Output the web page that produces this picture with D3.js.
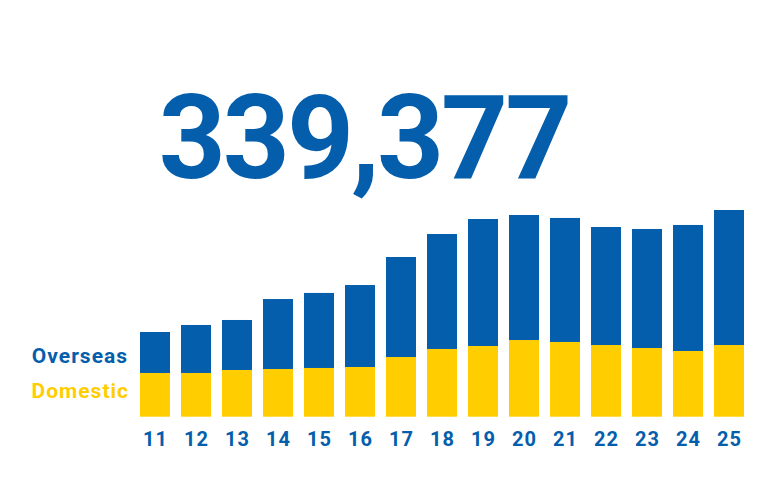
<!DOCTYPE html>
<html>
<head>
<meta charset="utf-8">
<script src="https://cdn.jsdelivr.net/npm/d3@7"></script>
<style>
html,body{margin:0;padding:0;background:#fff;}
svg{display:block;font-family:Roboto,"Noto Sans",sans-serif;}
</style>
</head>
<body>
<svg id="chart" width="774" height="489"></svg>
<script>
const years = ["11","12","13","14","15","16","17","18","19","20","21","22","23","24","25"];
const domestic = [71800,71800,76700,78300,80000,81600,98000,111200,116100,125900,122700,117700,112800,107900,117700];
const overseas = [67300,78800,82100,114900,123200,134600,164200,188800,208500,205300,203600,193800,195400,206900,221677];
const seriesNames = ["Domestic","Overseas"];
const headline = "339,377";

const BLUE = "#045EAC", YELLOW = "#FFCD00";
const colors = {Domestic: YELLOW, Overseas: BLUE};
const svg = d3.select("#chart");

const rows = years.map((y,i)=>({year:y, Domestic:domestic[i], Overseas:overseas[i]}));
const stack = d3.stack().keys(seriesNames)(rows);
const maxTotal = d3.max(rows, d=>d.Domestic+d.Overseas);

const pad = 11/41;
const x = d3.scaleBand().domain(years).range([134.5, 749.5]).paddingInner(pad).paddingOuter(pad/2);
const y = d3.scaleLinear().domain([0, maxTotal]).range([416.7, 210]);

svg.append("g").selectAll("g").data(stack).join("g")
  .attr("fill", d=>colors[d.key])
  .selectAll("rect").data(d=>d).join("rect")
  .attr("x", d=>x(d.data.year))
  .attr("width", x.bandwidth())
  .attr("y", d=>y(d[1]))
  .attr("height", d=>y(d[0])-y(d[1]));

// x axis labels
const xAxis = d3.axisBottom(x).tickSize(0).tickPadding(0);
const gx = svg.append("g").attr("transform","translate(0.5,431.8)").call(xAxis);
gx.select(".domain").remove();
gx.selectAll("text")
  .attr("fill", BLUE)
  .attr("font-family","Roboto")
  .attr("font-weight","700")
  .attr("font-size","20px")
  .attr("letter-spacing","1px")
  .attr("dy","0.71em");

// series labels
svg.append("text").attr("x",128).attr("y",363.3).attr("text-anchor","end")
  .attr("fill",BLUE).attr("font-weight","700").attr("font-size","21px")
  .attr("letter-spacing","1px").text("Overseas");
svg.append("text").attr("x",129).attr("y",398.3).attr("text-anchor","end")
  .attr("fill",YELLOW).attr("font-weight","700").attr("font-size","21px")
  .attr("letter-spacing","1px").text("Domestic");

// headline
svg.append("text").attr("x",364).attr("y",178).attr("text-anchor","middle")
  .attr("fill",BLUE).attr("font-weight","700").attr("font-size","117px")
  .attr("letter-spacing","-3px").text(headline);
</script>
</body>
</html>
